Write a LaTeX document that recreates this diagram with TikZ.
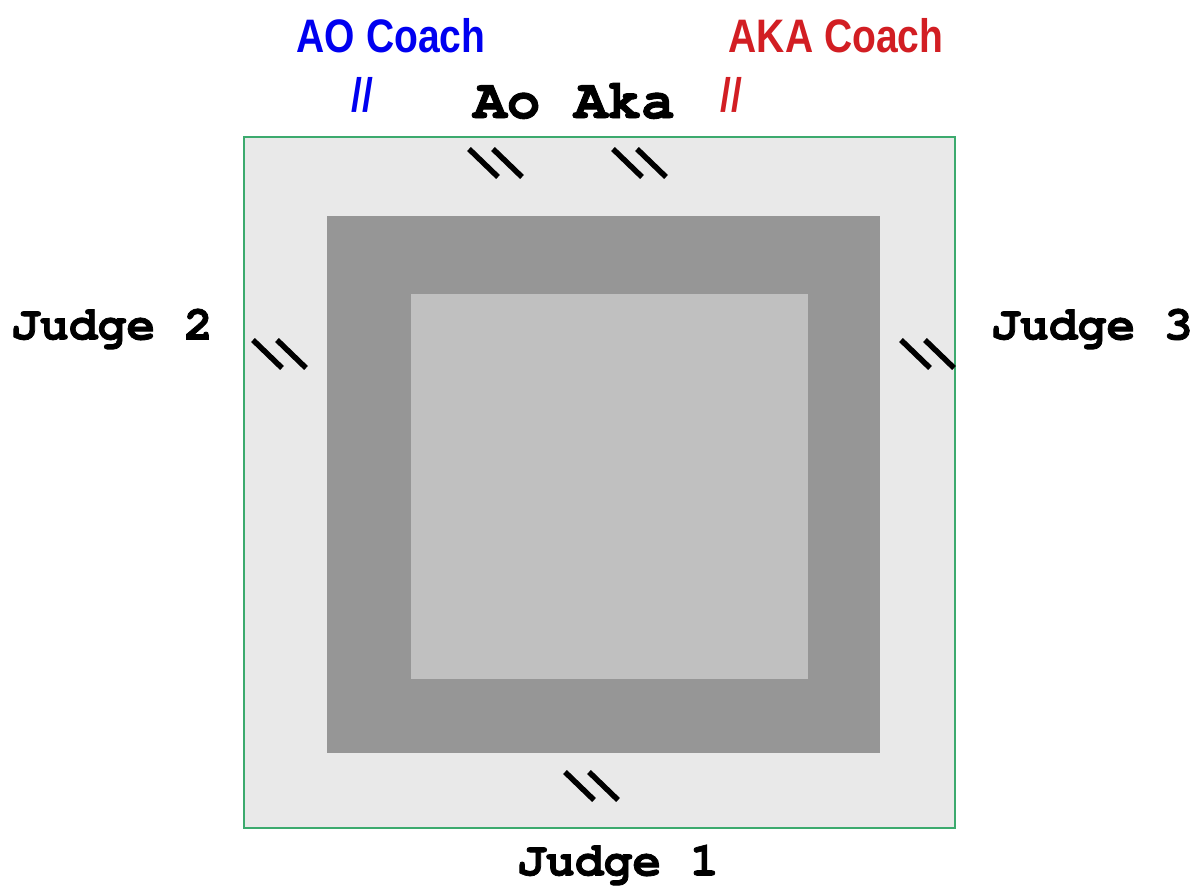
\documentclass[tikz,border=0pt]{standalone}
\usepackage{fontspec}
\newfontfamily\coachfont[FakeStretch=0.83]{Liberation Sans}
\newfontfamily\courierbf{texgyrecursor-bold.otf}[FakeBold=1.6]
\definecolor{outerfill}{HTML}{E9E9E9}
\definecolor{midfill}{HTML}{969696}
\definecolor{innerfill}{HTML}{C0C0C0}
\definecolor{bordergreen}{RGB}{60,170,110}
\definecolor{aoblue}{RGB}{0,0,240}
\definecolor{akared}{RGB}{210,30,35}
\tikzset{
  judge/.style={font=\courierbf\fontsize{48}{50}\selectfont, inner sep=0pt, anchor=center},
  coach/.style={font=\coachfont\bfseries\fontsize{47}{50}\selectfont, inner sep=0pt, anchor=center},
  markline/.style={line width=5.5pt, black},
}
\newcommand{\judgemark}[3]{%
  \coordinate (#1a) at (#2,#3);
  \coordinate (#1b) at (#2+29,#3+28);
  \coordinate (#1c) at (#2+24,#3);
  \coordinate (#1d) at (#2+53,#3+28);
  \draw[markline] (#1a) -- (#1b);
  \draw[markline] (#1c) -- (#1d);
}
\begin{document}
\begin{tikzpicture}[x=1pt,y=-1pt]
\useasboundingbox (0,0) rectangle (1201,893);
\fill[white] (0,0) rectangle (1201,893);
\draw[bordergreen, fill=outerfill, line width=1.5pt] (244,137) rectangle (955,828);
\fill[midfill] (327,216) rectangle (880,753);
\fill[innerfill] (411,294) rectangle (808,679);
\judgemark{t1}{469}{149}
\judgemark{t2}{613}{149}
\judgemark{l}{253}{340}
\judgemark{r}{901}{340}
\judgemark{b}{565}{772}
\node[coach, text=aoblue] (aocoach) at (391,36) {AO Coach};
\node[coach, text=akared] (akacoach) at (836,36) {AKA Coach};
\node[coach, text=aoblue] (aoslash) at (362,95) {//};
\node[coach, text=akared] (akaslash) at (731,95) {//};
\node[judge, font=\courierbf\fontsize{56}{58}\selectfont] (aoaka) at (574,101) {Ao Aka};
\node[judge] (j2) at (112,329) {Judge 2};
\node[judge] (j3) at (1092,329) {Judge 3};
\node[judge] (j1) at (618,865) {Judge 1};
\end{tikzpicture}
\end{document}
